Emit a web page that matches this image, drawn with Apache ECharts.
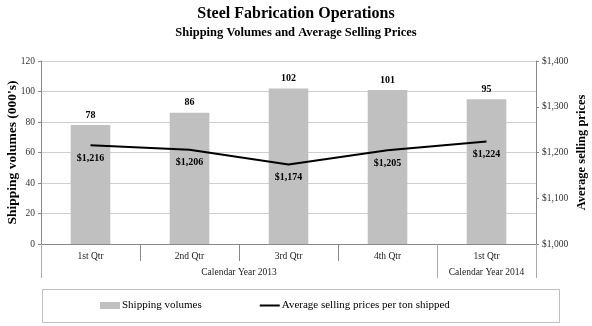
<!DOCTYPE html>
<html><head><meta charset="utf-8">
<script src="https://cdn.jsdelivr.net/npm/echarts@6/dist/echarts.min.js"></script>
<style>html,body{margin:0;padding:0;background:#fff}#c{width:592px;height:326px}</style>
</head><body><div id="c"></div>
<script>
const quarters = ['1st Qtr', '2nd Qtr', '3rd Qtr', '4th Qtr', '1st Qtr'];
const yearLabels = ['Calendar Year 2013', 'Calendar Year 2014'];
const yearCenters = [2, 4.5];
const yearBounds = [0, 4, 5];
const shippingVolumes = [78, 86, 102, 101, 95];
const avgPrices = [1216, 1206, 1174, 1205, 1224];
const F = '"Liberation Serif", "DejaVu Serif", serif';
const fmtMoney = v => '$' + v.toLocaleString('en-US');

const chart = echarts.init(document.getElementById('c'), null, {renderer: 'canvas'});
chart.setOption({
  animation: false,
  backgroundColor: '#fff',
  textStyle: {fontFamily: F},
  title: {
    text: 'Steel Fabrication Operations',
    subtext: 'Shipping Volumes and Average Selling Prices',
    left: 'center', top: 1, itemGap: 4,
    textStyle: {fontFamily: F, fontSize: 16, fontWeight: 'bold', color: '#000'},
    subtextStyle: {fontFamily: F, fontSize: 12.5, fontWeight: 'bold', color: '#000'}
  },
  graphic: [{
    type: 'rect', left: 42, top: 289, silent: true,
    shape: {width: 517, height: 33},
    style: {fill: '#fff', stroke: '#bfbfbf', lineWidth: 1}, z: -1
  }],
  grid: {left: 41, right: 56, top: 61, bottom: 82, containLabel: false, outerBoundsMode: 'none'},
  legend: {
    left: 100, top: 300,
    padding: 0,
    itemGap: 57, itemWidth: 20, itemHeight: 7,
    textStyle: {fontFamily: F, fontSize: 11, color: '#000', padding: [0, 0, 0, -3]},
    data: [
      {name: 'Shipping volumes', icon: 'rect'},
      {name: 'Average selling prices per ton shipped',
       itemStyle: {color: 'rgba(0,0,0,0)', borderColor: 'rgba(0,0,0,0)', borderWidth: 0},
       lineStyle: {color: '#000', width: 2}}
    ]
  },
  xAxis: [{
    type: 'category', data: quarters, position: 'bottom',
    axisLine: {lineStyle: {color: '#888', width: 1}},
    axisTick: {show: true, length: 17, interval: 0, lineStyle: {color: '#888'}},
    axisLabel: {fontFamily: F, fontSize: 9.5, color: '#222', margin: 7, interval: 0}
  }, {
    type: 'value', min: 0, max: 5, position: 'bottom',
    axisLine: {show: false},
    splitLine: {show: false},
    axisTick: {show: true, length: 34, customValues: yearBounds, lineStyle: {color: '#aaa'}},
    axisLabel: {fontFamily: F, fontSize: 9.5, color: '#222', margin: 23, customValues: yearCenters,
      formatter: v => yearLabels[yearCenters.indexOf(v)] || ''}
  }],
  yAxis: [{
    type: 'value', min: 0, max: 120, interval: 20,
    name: "Shipping volumes (000's)", nameLocation: 'middle', nameGap: 21, nameMoveOverlap: false,
    nameTextStyle: {fontFamily: F, fontSize: 13.5, fontWeight: 'bold', color: '#000'},
    axisLine: {show: true, lineStyle: {color: '#888'}},
    axisTick: {show: true, length: 3, lineStyle: {color: '#888'}},
    axisLabel: {fontFamily: F, fontSize: 9.5, color: '#333', margin: 6},
    splitLine: {show: true, lineStyle: {color: '#cfcfcf', width: 1}}
  }, {
    type: 'value', min: 1000, max: 1400, interval: 100, position: 'right',
    name: 'Average selling prices', nameLocation: 'middle', nameGap: 39, nameRotate: 90, nameMoveOverlap: false,
    nameTextStyle: {fontFamily: F, fontSize: 12.5, fontWeight: 'bold', color: '#000'},
    axisLine: {show: true, lineStyle: {color: '#888'}},
    axisTick: {show: true, length: 3, lineStyle: {color: '#888'}},
    axisLabel: {fontFamily: F, fontSize: 9.5, color: '#333', margin: 6, formatter: fmtMoney},
    splitLine: {show: false}
  }],
  series: [{
    name: 'Shipping volumes', type: 'bar', data: shippingVolumes,
    xAxisIndex: 0, yAxisIndex: 0, barWidth: '40%',
    itemStyle: {color: '#c0c0c0'},
    label: {show: true, position: 'top', distance: 5, fontFamily: F, fontSize: 10, fontWeight: 'bold', color: '#000'}
  }, {
    name: 'Average selling prices per ton shipped', type: 'line', data: avgPrices,
    xAxisIndex: 0, yAxisIndex: 1, symbol: 'circle', symbolSize: 0, showSymbol: true,
    lineStyle: {color: '#000', width: 2}, itemStyle: {color: '#000'},
    label: {show: true, position: 'bottom', distance: 8, fontFamily: F, fontSize: 10, fontWeight: 'bold', color: '#000', formatter: p => fmtMoney(p.value)}
  }]
});
</script></body></html>
